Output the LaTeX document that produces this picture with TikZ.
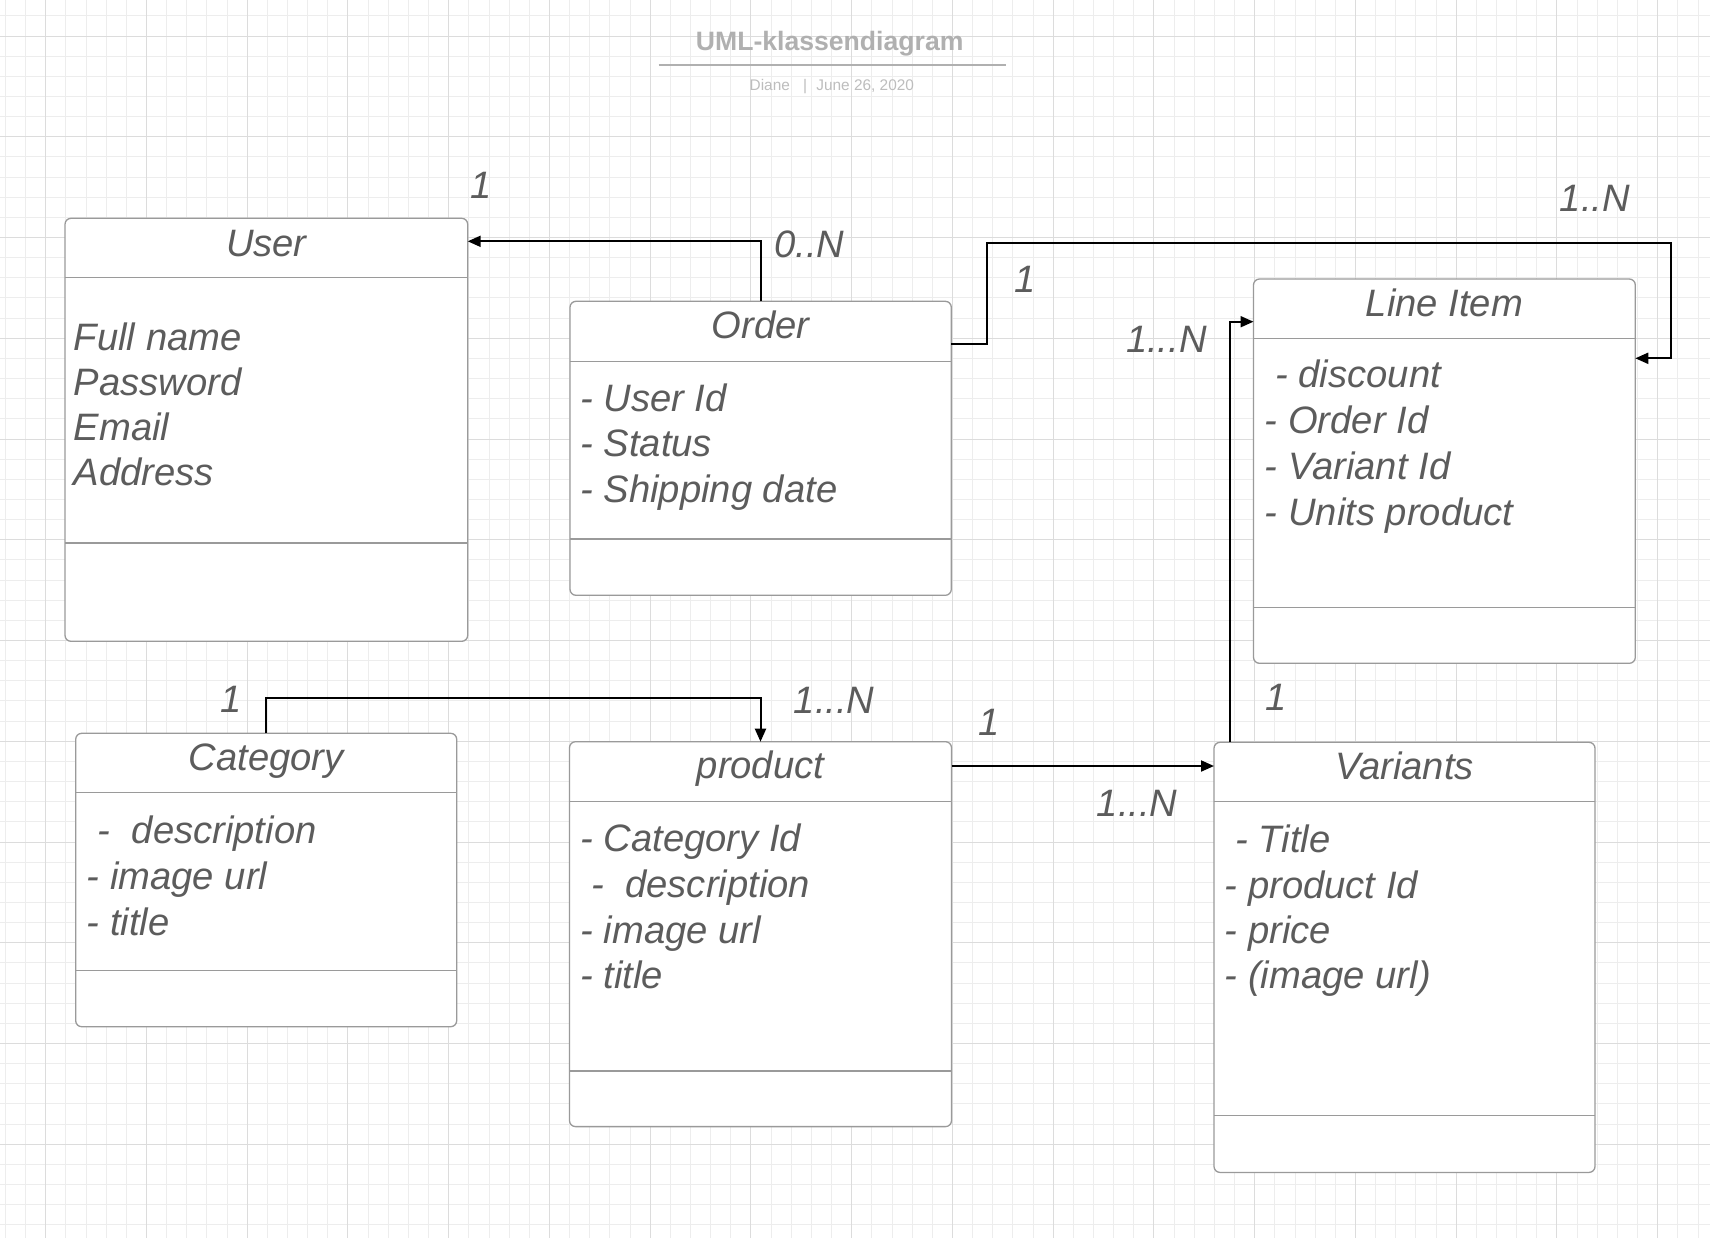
\documentclass[tikz,border=0pt]{standalone}
\usepackage{fontspec}
\setmainfont{Liberation Sans}
\usetikzlibrary{arrows.meta,calc}
\definecolor{txt}{HTML}{5C5C5C}
\definecolor{boxline}{HTML}{9A9A9A}
\definecolor{gridminor}{HTML}{EDEDED}
\definecolor{gridmajor}{HTML}{DCDCDC}
\definecolor{titlegray}{HTML}{B0B0B0}
\definecolor{subgray}{HTML}{BDBDBD}
\begin{document}
\begin{tikzpicture}[x=0.5pt,y=-0.5pt,
  classbox/.style={draw=boxline,line width=0.65pt,rounded corners=3pt,fill=white,inner sep=0pt,outer sep=0pt,anchor=north west},
  divider/.style={draw=boxline,line width=0.65pt},
  conn/.style={draw=black,line width=1pt,-{Triangle[length=6.5pt,width=5.5pt]}},
  ctitle/.style={font=\fontsize{19.1}{23}\selectfont\itshape,text=txt,inner sep=0pt,anchor=base},
  attr/.style={font=\fontsize{19.1}{23}\selectfont\itshape,text=txt,inner sep=0pt,anchor=base west},
  mult/.style={font=\fontsize{19.1}{23}\selectfont\itshape,text=txt,inner sep=0pt,anchor=base},
  minorline/.style={draw=gridminor,line width=0.5pt},
  majorline/.style={draw=gridmajor,line width=0.5pt},
]
\useasboundingbox (0,0) rectangle (1710,1238);
\fill[white] (0,0) rectangle (1710,1238);
% grid
\foreach \i in {-2,...,82} \draw[minorline] ({45.7+20.15*\i},0) -- ({45.7+20.15*\i},1238);
\foreach \j in {-1,...,59} \draw[minorline] (0,{36+20.15*\j}) -- (1710,{36+20.15*\j});
\foreach \i in {0,...,16} \draw[majorline] ({45.7+100.75*\i},0) -- ({45.7+100.75*\i},1238);
\foreach \j in {0,...,11} \draw[majorline] (0,{36+100.75*\j}) -- (1710,{36+100.75*\j});

% header
\node[font=\fontsize{13.3}{16}\selectfont\bfseries,text=titlegray,inner sep=0pt,anchor=base] (title) at (829.7,50.7) {UML-klassendiagram};
\coordinate (ulA) at (658.5,65);
\coordinate (ulB) at (1005.5,65);
\draw[titlegray,line width=1pt] (ulA) -- (ulB);
\node[font=\fontsize{7.7}{9}\selectfont,text=subgray,inner sep=0pt,anchor=base west] (author) at (749.3,90) {Diane};
\node[font=\fontsize{7.7}{9}\selectfont,text=subgray,inner sep=0pt,anchor=base] (bar) at (805,90) {|};
\node[font=\fontsize{7.7}{9}\selectfont,text=subgray,inner sep=0pt,anchor=base west] (date) at (816,90) {June 26, 2020};

% class boxes
\node[classbox,minimum width=201.35pt,minimum height=211.5pt] (user) at (65,218.3) {};
\node[classbox,minimum width=190.65pt,minimum height=147pt] (order) at (570,301.3) {};
\node[classbox,minimum width=190.9pt,minimum height=192.15pt] (lineitem) at (1253.5,279) {};
\node[classbox,minimum width=190.5pt,minimum height=146.7pt] (category) at (75.7,733.3) {};
\node[classbox,minimum width=191pt,minimum height=192.45pt] (product) at (569.5,741.7) {};
\node[classbox,minimum width=190.5pt,minimum height=215.05pt] (variants) at (1214,742.3) {};

% dividers
\draw[divider] ($(user.north west)+(0,59.4)$) -- ($(user.north east)+(0,59.4)$);
\draw[divider] ($(user.north west)+(0,324.8)$) -- ($(user.north east)+(0,324.8)$);
\draw[divider] ($(order.north west)+(0,60)$) -- ($(order.north east)+(0,60)$);
\draw[divider] ($(order.north west)+(0,237.7)$) -- ($(order.north east)+(0,237.7)$);
\draw[divider] ($(lineitem.north west)+(0,59.3)$) -- ($(lineitem.north east)+(0,59.3)$);
\draw[divider] ($(lineitem.north west)+(0,328.3)$) -- ($(lineitem.north east)+(0,328.3)$);
\draw[divider] ($(category.north west)+(0,59.4)$) -- ($(category.north east)+(0,59.4)$);
\draw[divider] ($(category.north west)+(0,237.4)$) -- ($(category.north east)+(0,237.4)$);
\draw[divider] ($(product.north west)+(0,60)$) -- ($(product.north east)+(0,60)$);
\draw[divider] ($(product.north west)+(0,329.3)$) -- ($(product.north east)+(0,329.3)$);
\draw[divider] ($(variants.north west)+(0,59.4)$) -- ($(variants.north east)+(0,59.4)$);
\draw[divider] ($(variants.north west)+(0,373.4)$) -- ($(variants.north east)+(0,373.4)$);

% titles
\node[ctitle] (userT) at ($(user.north)+(0,37.7)$) {User};
\node[ctitle] (orderT) at ($(order.north)+(0,37)$) {Order};
\node[ctitle] (lineitemT) at ($(lineitem.north)+(0,37)$) {Line Item};
\node[ctitle] (categoryT) at ($(category.north)+(0,36.7)$) {Category};
\node[ctitle] (productT) at ($(product.north)+(0,36.6)$) {product};
\node[ctitle] (variantsT) at ($(variants.north)+(0,36.7)$) {Variants};

% attributes
\node[attr] (uA1) at (73.5,350) {Full name};
\node[attr] (uA2) at (73.5,395) {Password};
\node[attr] (uA3) at (73.5,440) {Email};
\node[attr] (uA4) at (73.5,485) {Address};

\node[attr] (oA1) at (580,411.7) {- User Id};
\node[attr] (oA2) at (580,456.7) {- Status};
\node[attr] (oA3) at (580,502.3) {- Shipping date};

\node[attr] (lA1) at (1275,387.3) {- discount};
\node[attr] (lA2) at (1264.5,433.3) {- Order Id};
\node[attr] (lA3) at (1264.5,479.3) {- Variant Id};
\node[attr] (lA4) at (1264.5,525.7) {- Units product};

\node[attr] (cA1) at (97.5,843.3) {-\ \ description};
\node[attr] (cA2) at (86.5,889.3) {- image url};
\node[attr] (cA3) at (86.5,935) {- title};

\node[attr] (pA1) at (580,851.7) {- Category Id};
\node[attr] (pA2) at (591,897.3) {-\ \ description};
\node[attr] (pA3) at (580,943.3) {- image url};
\node[attr] (pA4) at (580,988.3) {- title};

\node[attr] (vA1) at (1235,852.3) {- Title};
\node[attr] (vA2) at (1224.5,898.3) {- product Id};
\node[attr] (vA3) at (1224.5,943.3) {- price};
\node[attr] (vA4) at (1224.5,988.3) {- (image url)};

% connectors
\draw[conn] (order.north) |- ($(user.north east)+(0,23)$);
\coordinate (b1) at (986.5,243.3);
\coordinate (b2) at (1670.5,243.3);
\draw[conn] ($(order.north east)+(0,42.4)$) -| (b1) -- (b2) |- ($(lineitem.north east)+(0,79.3)$);
\draw[conn] ($(variants.north west)+(16,0)$) |- ($(lineitem.north west)+(0,42.7)$);
\draw[conn] (category.north) |- ($(product.north)+(0,-43.4)$) -- (product.north);
\coordinate (pv) at ($(product.north east)+(0,24.3)$);
\draw[conn] (pv) -- (pv -| variants.west);

% multiplicities
\node[mult] (m1) at (481.4,198.3) {1};
\node[mult] (m2) at (809.5,257.3) {0..N};
\node[mult] (m3) at (1025.5,292.7) {1};
\node[mult] (m4) at (1595,211.7) {1..N};
\node[mult] (m5) at (1166.4,352.7) {1...N};
\node[mult] (m6) at (231,712.7) {1};
\node[mult] (m7) at (834.2,713.3) {1...N};
\node[mult] (m8) at (989.3,735) {1};
\node[mult] (m9) at (1137.2,816.7) {1...N};
\node[mult] (m10) at (1276.5,710) {1};
\end{tikzpicture}
\end{document}
